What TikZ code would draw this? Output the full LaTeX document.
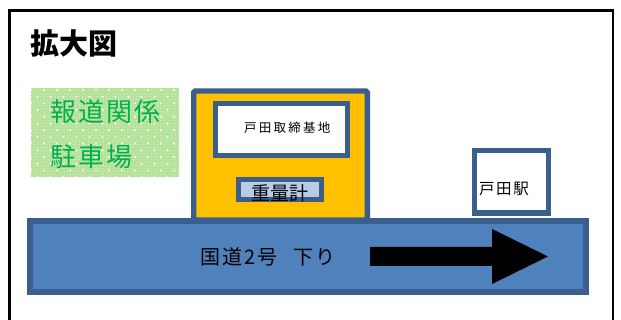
\documentclass[tikz,border=0pt]{standalone}
\usepackage{fontspec}
\usetikzlibrary{patterns}
\setmainfont{Noto Sans CJK JP}
\newfontfamily\jpwide[LetterSpace=18]{Noto Sans CJK JP}
\newfontfamily\jppark[LetterSpace=8]{Noto Sans CJK JP}
\newfontfamily\jpmid[LetterSpace=10]{Noto Sans CJK JP}
\newfontfamily\jpheavy{Noto Sans CJK JP Black}
\definecolor{edgeblue}{HTML}{3A5F8F}
\definecolor{roadblue}{HTML}{4F81BD}
\definecolor{paleblue}{HTML}{B8CCE4}
\definecolor{sitegold}{HTML}{FFC000}
\definecolor{parkfill}{HTML}{B2E094}
\definecolor{parktext}{HTML}{00B050}
\tikzset{
  box/.style={draw=edgeblue,line width=5.4pt,miter limit=10},
  lbl/.style={anchor=west,inner sep=0pt,text=black},
}
\begin{document}
\begin{tikzpicture}[x=1pt,y=-1pt]
\useasboundingbox (0,0) rectangle (621,320);
\fill[white] (0,0) rectangle (621,320);
% frame, open past the lower edge
\draw[line width=2.2pt,black] (9.5,325) -- (9.5,10.5) -- (613,10.5) -- (613,325);
% parking patch
\fill[parkfill] (31,88) rectangle (179,177);
\fill[pattern=crosshatch dots,pattern color=white,opacity=0.6] (31,88) rectangle (179,177);
\begin{scope}
\clip (31,88) rectangle (179,177);
\foreach \r in {0,...,13}{
  \pgfmathsetmacro{\ofs}{mod(\r,2)*6.5}
  \foreach \c in {0,...,12}{
    \fill[white] (31+\ofs+\c*13,90+\r*6.7) circle (1.1);
  }
}
\end{scope}
\node[lbl,text=parktext] (park1) at (50,111.5) {\fontsize{26}{26}\selectfont\jppark 報道関係};
\node[lbl,text=parktext] (park2) at (50,156.5) {\fontsize{26}{26}\selectfont\jppark 駐車場};
% title
\node[lbl] (title) at (30,43.5) {\fontsize{29}{29}\selectfont\jpheavy 拡大図};
% site
\filldraw[box,fill=sitegold,rounded corners=1.5pt] (193.7,91) rectangle (367.3,220);
\filldraw[box,fill=white] (215.7,103.7) rectangle (347.5,155.5);
\node[lbl] (base) at (244,127.5) {\fontsize{12.5}{12.5}\selectfont\jpwide 戸田取締基地};
\filldraw[box,fill=paleblue] (238.7,179.7) rectangle (321.5,199.5);
\node[lbl] (scale) at (251,193) {\fontsize{19}{19}\selectfont 重量計};
% station
\filldraw[box,fill=white] (474.7,150.7) rectangle (548.5,213);
\node[lbl] (station) at (479,189) {\fontsize{15.5}{15.5}\selectfont\jpmid 戸田駅};
% road
\filldraw[box,fill=roadblue] (30,221) rectangle (586,292);
\node[lbl] (road) at (200,256.5) {\fontsize{20}{20}\selectfont\jpmid 国道2号\hspace{0.8em}下り};
% arrow
\fill[black] (370,247) -- (492,247) -- (492,229) -- (548,256.5) -- (492,284) -- (492,266) -- (370,266) -- cycle;
\end{tikzpicture}
\end{document}
